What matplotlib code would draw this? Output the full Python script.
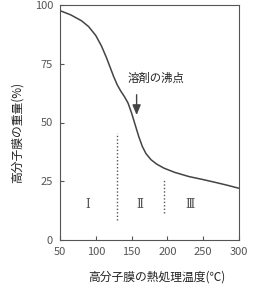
import matplotlib.pyplot as plt

plt.rcParams["font.family"] = ["Noto Sans CJK JP", "DejaVu Sans"]

temp = [50, 65, 80, 90, 100, 108, 115, 120, 125, 130, 135, 140, 145, 150,
        155, 160, 165, 170, 177, 185, 195, 210, 230, 250, 270, 285, 300]
weight = [97.6, 95.8, 93.3, 90.8, 87, 82.5, 77.5, 73.5, 69.5, 66, 63.3, 61,
          58.3, 54, 49, 44, 39.8, 36.8, 34.2, 32.3, 30.6, 28.8, 27, 25.7,
          24.3, 23.2, 22]
boundaries = [(130, 8.5, 45.5), (195, 11.5, 26)]
region_x = [89, 162, 232]
region_labels = ["Ⅰ", "Ⅱ", "Ⅲ"]
boiling_x = 157

fig = plt.figure(figsize=(2.6, 2.85), dpi=100)
ax = fig.add_axes([60 / 260, 45 / 285, 179 / 260, 235 / 285])
ax.plot(temp, weight, color="#444444", linewidth=1.1)
for x, y0, y1 in boundaries:
    ax.plot([x, x], [y0, y1], color="#555555", linestyle=(0, (1, 1.5)),
            linewidth=1)
for x, lab in zip(region_x, region_labels):
    ax.text(x, 15, lab, ha="center", va="center", fontsize=8.5,
            color="#555555", family=["DejaVu Serif", "Noto Sans CJK JP"])
ax.text(145, 69, "溶剤の沸点", ha="left", va="center", fontsize=8.2,
        color="#222222")
ax.annotate("", xy=(boiling_x, 52), xytext=(boiling_x, 63),
            arrowprops=dict(arrowstyle="-|>,head_length=0.6,head_width=0.25",
                            color="#444444", lw=1, mutation_scale=10))
ax.set_xlim(50, 300)
ax.set_ylim(0, 100)
ax.set_xticks([50, 100, 150, 200, 250, 300])
ax.set_yticks([0, 25, 50, 75, 100])
ax.tick_params(direction="in", length=3, width=0.8, labelsize=8,
               labelcolor="#555555", color="#555555", pad=5)
for s in ax.spines.values():
    s.set_color("#555555")
    s.set_linewidth(0.8)
fig.text(157 / 260, 1 - 277 / 285, "高分子膜の熱処理温度(℃)", ha="center",
         va="center", fontsize=8.5, color="#222222")
fig.text(17 / 260, 1 - 132 / 285, "高分子膜の重量(%)", ha="center",
         va="center", rotation=90, fontsize=8.5, color="#222222")
fig.savefig("out.png", dpi=100)
